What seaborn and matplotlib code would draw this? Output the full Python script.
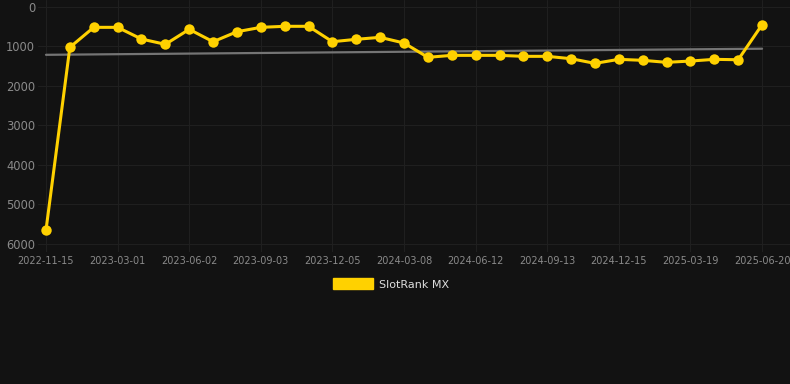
import numpy as np
import pandas as pd
import matplotlib
matplotlib.use('Agg')
import matplotlib.pyplot as plt
import seaborn as sns
from matplotlib.patches import Patch

dates = ['2022-11-15', '2022-12-20', '2023-01-24', '2023-03-01', '2023-04-01',
         '2023-05-02', '2023-06-02', '2023-07-03', '2023-08-03', '2023-09-03',
         '2023-10-04', '2023-11-04', '2023-12-05', '2024-01-05', '2024-02-06',
         '2024-03-08', '2024-04-09', '2024-05-11', '2024-06-12', '2024-07-13',
         '2024-08-13', '2024-09-13', '2024-10-14', '2024-11-14', '2024-12-15',
         '2025-01-15', '2025-02-16', '2025-03-19', '2025-04-19', '2025-05-20',
         '2025-06-20']
rank = [5658, 1033, 527, 527, 823, 957, 577, 891, 638, 527,
        501, 501, 891, 830, 780, 924, 1286, 1236, 1236, 1236,
        1261, 1261, 1321, 1439, 1337, 1362, 1413, 1380, 1337, 1347,
        460]
yticks = [0, 1000, 2000, 3000, 4000, 5000, 6000]

bg = '#121212'
gold = '#FFD100'

sns.set_style('dark')
plt.rcParams['font.family'] = ['DejaVu Sans']

df = pd.DataFrame({'idx': np.arange(len(rank)), 'date': dates, 'rank': rank})

fig = plt.figure(figsize=(7.9, 3.84), dpi=100, facecolor=bg)
ax = fig.add_axes([38/790, 1 - 251.6/384, 1 - 38/790, 251.6/384])
ax.set_facecolor(bg)

# trend line (linear fit)
k, b = np.polyfit(df['idx'], df['rank'], 1)
trend = k * df['idx'] + b
ax.plot(df['idx'], trend, color='#747474', lw=1.6, zorder=2)

sns.lineplot(data=df, x='idx', y='rank', ax=ax, color=gold, lw=2.2,
             marker='o', markersize=7.5, markeredgewidth=0, zorder=3)

ax.set_xlim(-0.335, 31.17)
ax.set_ylim(6203, -165)
ax.set_yticks(yticks)
ax.set_yticklabels([str(v) for v in yticks])
ax.set_xticks(df['idx'][::3])
ax.set_xticklabels(df['date'][::3])
ax.set_xlabel('')
ax.set_ylabel('')
ax.grid(True, color='#1f1f1f', lw=0.8)
ax.tick_params(axis='both', length=0, colors='#8a8a8a')
ax.tick_params(axis='y', labelsize=8.3, pad=2)
ax.tick_params(axis='x', labelsize=7, pad=3)
for s in ax.spines.values():
    s.set_visible(False)

fig.legend(handles=[Patch(color=gold, label='SlotRank MX')],
           loc='center', bbox_to_anchor=(0.495, 1 - 284/384),
           frameon=False, fontsize=8, labelcolor='#dddddd',
           handlelength=3.6, handleheight=1.1, handletextpad=0.55)

fig.savefig('out.png', dpi=100, facecolor=bg)
